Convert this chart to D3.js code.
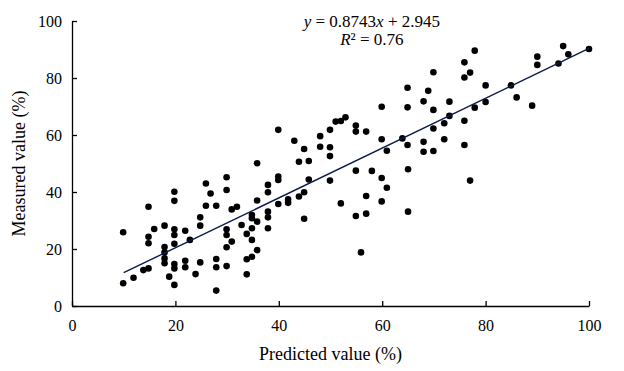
<!DOCTYPE html>
<html>
<head>
<meta charset="utf-8">
<script src="https://cdn.jsdelivr.net/npm/d3@7"></script>
<style>
  body { margin: 0; background: #fff; }
  text { font-family: "Liberation Serif", "Times New Roman", serif; fill: #000; }
</style>
</head>
<body>
<div id="chart"></div>
<script>
// predicted (x) and measured (y) values
const predicted = [
  9.9, 9.9, 11.9, 13.8, 14.8, 14.8, 14.8, 14.8, 15.9,
  17.9, 17.9, 17.9, 17.9, 17.9, 18.8,
  19.8, 19.8, 19.8, 19.8, 19.8, 19.8, 19.8, 19.8,
  21.9, 22.8, 21.9, 21.9, 23.9,
  24.8, 24.8, 24.8, 25.9, 25.9, 26.8,
  27.9, 27.9, 27.9, 27.9,
  29.9, 29.9, 29.9, 29.9, 29.9, 29.9,
  30.9, 30.9, 31.9, 32.8, 33.8, 33.8, 33.8,
  34.8, 34.8, 34.8, 34.8, 34.8,
  35.8, 35.8, 35.8, 35.8,
  37.9, 37.9, 37.9, 37.9, 37.9,
  39.9, 39.9, 39.9, 39.9,
  41.8, 41.8, 43.0, 43.9, 43.9, 44.9, 44.9, 44.9, 45.8, 45.8,
  48.0, 48.0, 49.9, 49.9, 49.9, 49.9,
  51.0, 52.0, 52.9, 52.0,
  54.9, 54.9, 54.9, 54.9, 55.9,
  56.9, 56.9, 56.9, 58.0,
  59.9, 59.9, 59.9, 59.9, 60.9, 60.9,
  63.9, 64.9, 64.9, 64.9, 65.0, 65.0,
  68.0, 68.0, 68.0, 68.9, 69.9, 69.9, 69.9, 69.9,
  72.0, 72.0, 73.0, 73.0,
  75.9, 75.9, 77.0, 77.9, 75.9, 75.9, 77.9, 77.0,
  80.0, 80.0, 84.9, 86.0, 89.0, 90.0, 90.0,
  94.1, 95.0, 96.0, 100
];
const measured = [
  25.9, 8.0, 9.9, 12.6, 13.2, 34.8, 24.3, 22.0, 27.0,
  28.2, 20.7, 18.8, 16.7, 15.0, 10.3,
  40.1, 36.9, 26.9, 24.9, 21.8, 14.7, 13.2, 7.4,
  26.4, 23.2, 15.9, 13.6, 11.2,
  31.1, 28.2, 15.3, 43.0, 35.2, 39.5,
  35.2, 16.5, 13.6, 5.4,
  45.2, 40.7, 26.9, 24.9, 20.6, 14.0,
  22.6, 33.9, 34.8, 28.4, 25.3, 16.4, 11.1,
  31.9, 30.8, 27.3, 23.2, 17.3,
  50.1, 37.0, 29.6, 19.6,
  42.5, 39.9, 33.1, 31.1, 27.3,
  45.4, 44.2, 35.8, 61.8,
  37.4, 36.2, 58.0, 50.6, 38.4, 55.1, 39.9, 30.6, 50.9, 44.4,
  59.6, 55.9, 61.8, 55.7, 52.6, 44.0,
  64.7, 64.9, 66.2, 36.0,
  63.3, 61.2, 47.5, 31.6, 18.8,
  61.2, 38.6, 32.4, 47.4,
  69.9, 58.5, 44.9, 36.7, 54.5, 41.5,
  58.8, 76.6, 69.7, 56.5, 48.0, 33.1,
  71.8, 57.6, 54.1, 75.5, 82.0, 68.8, 62.3, 54.4,
  64.1, 58.5, 71.7, 66.7,
  85.5, 80.2, 81.9, 89.6, 65.0, 56.5, 69.6, 44.0,
  77.4, 71.6, 77.4, 73.2, 70.3, 87.5, 84.6,
  85.1, 91.2, 88.3, 90.2
];
const xTicks = [0, 20, 40, 60, 80, 100];
const yTicks = [0, 20, 40, 60, 80, 100];
const slope = 0.8743;
const intercept = 2.945;
const lineRange = [10, 100];

const margin = { top: 21, right: 35, bottom: 65, left: 72 };
const width = 624 - margin.left - margin.right;
const height = 371 - margin.top - margin.bottom;

const svg = d3
  .select("#chart")
  .append("svg")
  .attr("width", width + margin.left + margin.right)
  .attr("height", height + margin.top + margin.bottom)
  .append("g")
  .attr("transform", "translate(" + margin.left + "," + margin.top + ")");

const x = d3.scaleLinear().domain([0, 100]).range([0, width]);
const y = d3.scaleLinear().domain([0, 100]).range([height, 0]);

const xAxis = svg
  .append("g")
  .attr("transform", "translate(0," + height + ")")
  .call(d3.axisBottom(x).tickValues(xTicks).tickSizeInner(-5).tickSizeOuter(0).tickPadding(14));

const yAxis = svg
  .append("g")
  .call(d3.axisLeft(y).tickValues(yTicks).tickSizeInner(-5).tickSizeOuter(0).tickPadding(10));

[xAxis, yAxis].forEach((g) => {
  g.selectAll("path, line").attr("stroke", "#000").attr("stroke-width", 1.3);
  g.selectAll("text").style("font-size", "16px").attr("font-family", null);
});

// points
const data = predicted.map((p, i) => ({ p: p, m: measured[i] }));
svg
  .selectAll(".dot")
  .data(data)
  .enter()
  .append("circle")
  .attr("class", "dot")
  .attr("cx", (d) => x(d.p))
  .attr("cy", (d) => y(d.m))
  .attr("r", 3.3)
  .attr("fill", "#000");

// fitted line
svg
  .append("line")
  .attr("x1", x(lineRange[0]))
  .attr("y1", y(slope * lineRange[0] + intercept))
  .attr("x2", x(lineRange[1]))
  .attr("y2", y(slope * lineRange[1] + intercept))
  .attr("stroke", "#0b1a4a")
  .attr("stroke-width", 1.4);

// equation
const eq = svg
  .append("text")
  .attr("x", x(58))
  .attr("y", 6)
  .attr("text-anchor", "middle")
  .style("font-size", "17px");
eq.append("tspan").attr("font-style", "italic").text("y");
eq.append("tspan").text(" = 0.8743");
eq.append("tspan").attr("font-style", "italic").text("x");
eq.append("tspan").text(" + 2.945");

const r2 = svg
  .append("text")
  .attr("x", x(58))
  .attr("y", 24)
  .attr("text-anchor", "middle")
  .style("font-size", "17px");
r2.append("tspan").attr("font-style", "italic").text("R");
r2.append("tspan").text("² = 0.76");

// axis titles
svg
  .append("text")
  .attr("text-anchor", "middle")
  .attr("x", width / 2)
  .attr("y", height + 54)
  .style("font-size", "18px")
  .text("Predicted value (%)");

svg
  .append("text")
  .attr("text-anchor", "middle")
  .attr("transform", "translate(" + (-47) + "," + height / 2 + ") rotate(-90)")
  .style("font-size", "18px")
  .text("Measured value (%)");
</script>
</body>
</html>
